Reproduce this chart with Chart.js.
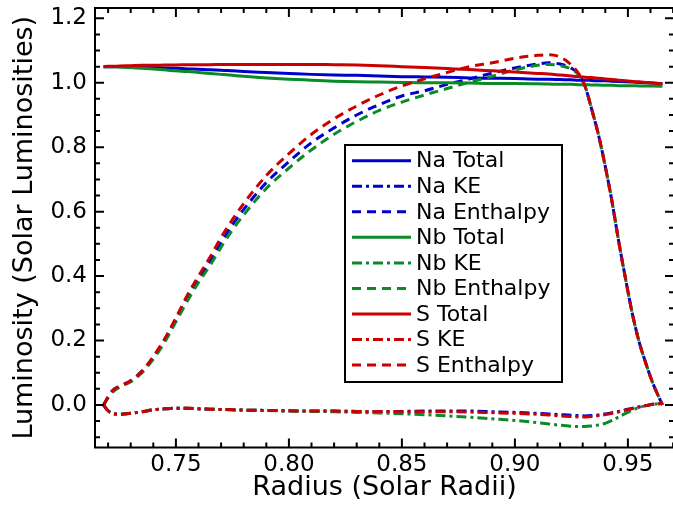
<!DOCTYPE html>
<html>
<head>
<meta charset="utf-8">
<title>Luminosity profiles</title>
<script src="https://cdn.jsdelivr.net/npm/chart.js@4.4.0/dist/chart.umd.min.js"></script>
<style>
  html, body { margin: 0; padding: 0; background: #fff; overflow: hidden; }
  canvas { display: block; }
</style>
</head>
<body>
<canvas id="lumChart" width="676" height="505"></canvas>
<script>
// Radii (solar radii) where each profile is sampled
const radius = [
  0.718, 0.720, 0.722, 0.725, 0.730, 0.735, 0.740, 0.745, 0.750, 0.755,
  0.760, 0.765, 0.770, 0.775, 0.780, 0.790, 0.800, 0.810, 0.820, 0.830,
  0.840, 0.850, 0.860, 0.870, 0.880, 0.890, 0.900, 0.910, 0.915, 0.920,
  0.925, 0.928, 0.931, 0.934, 0.937, 0.940, 0.943, 0.946, 0.949, 0.952,
  0.955, 0.958, 0.961, 0.9653
];

// Model Na
const naTotal = [
  1.050, 1.050, 1.050, 1.050, 1.049, 1.048, 1.047, 1.046, 1.045, 1.043,
  1.042, 1.040, 1.039, 1.037, 1.035, 1.032, 1.029, 1.026, 1.024, 1.023,
  1.021, 1.019, 1.018, 1.017, 1.015, 1.014, 1.013, 1.011, 1.011, 1.010,
  1.009, 1.008, 1.008, 1.007, 1.006, 1.006, 1.005, 1.004, 1.003, 1.002,
  1.001, 1.000, 0.999, 0.997
];
const naKE = [
  0.000, -0.018, -0.026, -0.029, -0.026, -0.021, -0.015, -0.012, -0.010, -0.010,
  -0.012, -0.013, -0.014, -0.015, -0.016, -0.017, -0.018, -0.019, -0.019, -0.020,
  -0.020, -0.020, -0.019, -0.019, -0.019, -0.021, -0.023, -0.026, -0.028, -0.030,
  -0.032, -0.033, -0.034, -0.033, -0.031, -0.028, -0.024, -0.020, -0.015, -0.010,
  -0.006, -0.002, 0.002, 0.005
];
const naEnthalpy = [
  0.000, 0.025, 0.045, 0.058, 0.075, 0.105, 0.148, 0.202, 0.265, 0.333,
  0.390, 0.446, 0.505, 0.559, 0.607, 0.690, 0.755, 0.814, 0.860, 0.900,
  0.932, 0.959, 0.975, 0.995, 1.012, 1.030, 1.046, 1.058, 1.062, 1.058,
  1.045, 1.028, 0.990, 0.917, 0.838, 0.740, 0.630, 0.505, 0.390, 0.282,
  0.195, 0.128, 0.068, 0.000
];

// Model Nb
const nbTotal = [
  1.050, 1.050, 1.050, 1.049, 1.047, 1.045, 1.043, 1.040, 1.037, 1.035,
  1.032, 1.029, 1.026, 1.023, 1.020, 1.015, 1.011, 1.008, 1.005, 1.003,
  1.002, 1.001, 1.000, 1.000, 0.999, 0.998, 0.998, 0.997, 0.996, 0.995,
  0.995, 0.994, 0.994, 0.993, 0.993, 0.992, 0.992, 0.991, 0.991, 0.991,
  0.990, 0.990, 0.990, 0.989
];
const nbKE = [
  0.000, -0.018, -0.026, -0.029, -0.026, -0.021, -0.015, -0.012, -0.010, -0.010,
  -0.012, -0.013, -0.014, -0.015, -0.016, -0.017, -0.019, -0.020, -0.021, -0.023,
  -0.025, -0.027, -0.030, -0.034, -0.038, -0.043, -0.048, -0.055, -0.059, -0.063,
  -0.066, -0.067, -0.067, -0.065, -0.062, -0.057, -0.048, -0.037, -0.026, -0.016,
  -0.008, -0.002, 0.002, 0.005
];
const nbEnthalpy = [
  0.000, 0.022, 0.040, 0.055, 0.072, 0.100, 0.142, 0.195, 0.258, 0.322,
  0.380, 0.432, 0.490, 0.543, 0.590, 0.672, 0.735, 0.792, 0.840, 0.880,
  0.914, 0.940, 0.962, 0.982, 1.002, 1.020, 1.040, 1.054, 1.057, 1.053,
  1.042, 1.026, 0.990, 0.917, 0.838, 0.740, 0.630, 0.505, 0.390, 0.282,
  0.195, 0.128, 0.068, 0.000
];

// Model S
const sTotal = [
  1.050, 1.051, 1.051, 1.052, 1.053, 1.054, 1.054, 1.055, 1.055, 1.056,
  1.056, 1.056, 1.057, 1.057, 1.057, 1.057, 1.057, 1.057, 1.056, 1.055,
  1.053, 1.050, 1.047, 1.044, 1.041, 1.037, 1.033, 1.029, 1.027, 1.024,
  1.021, 1.019, 1.017, 1.016, 1.014, 1.012, 1.010, 1.008, 1.006, 1.004,
  1.003, 1.001, 0.999, 0.997
];
const sKE = [
  0.000, -0.018, -0.026, -0.029, -0.026, -0.021, -0.015, -0.012, -0.010, -0.010,
  -0.012, -0.013, -0.014, -0.015, -0.016, -0.017, -0.018, -0.019, -0.019, -0.020,
  -0.020, -0.021, -0.021, -0.021, -0.022, -0.024, -0.026, -0.029, -0.031, -0.034,
  -0.036, -0.037, -0.037, -0.036, -0.033, -0.030, -0.026, -0.021, -0.016, -0.011,
  -0.006, -0.002, 0.002, 0.005
];
const sEnthalpy = [
  0.000, 0.025, 0.045, 0.058, 0.075, 0.105, 0.150, 0.205, 0.270, 0.340,
  0.400, 0.458, 0.520, 0.575, 0.625, 0.712, 0.780, 0.840, 0.888, 0.928,
  0.962, 0.990, 1.012, 1.032, 1.050, 1.062, 1.076, 1.085, 1.087, 1.080,
  1.055, 1.030, 0.990, 0.917, 0.838, 0.740, 0.630, 0.505, 0.390, 0.282,
  0.195, 0.128, 0.068, 0.000
];

// Axis ticks
const xTicks = [0.75, 0.80, 0.85, 0.90, 0.95];
const yTicks = [0.0, 0.2, 0.4, 0.6, 0.8, 1.0, 1.2];
const xMinorTicks = [
  0.72, 0.73, 0.74, 0.76, 0.77, 0.78, 0.79, 0.81, 0.82, 0.83, 0.84,
  0.86, 0.87, 0.88, 0.89, 0.91, 0.92, 0.93, 0.94, 0.96, 0.97
];
const yMinorTicks = [-0.10, -0.05, 0.05, 0.10, 0.15, 0.25, 0.30, 0.35, 0.45, 0.50, 0.55,
  0.65, 0.70, 0.75, 0.85, 0.90, 0.95, 1.05, 1.10, 1.15];

const BLUE = '#0000cc';
const GREEN = '#0a8a28';
const RED = '#cc0000';
const SOLID = [];
const DASH_DOT = [10, 4, 3, 4];
const DASHED = [9, 6];
const FONT = 'DejaVu Sans';

function makeLine(label, values, color, dash, order) {
  return {
    label: label,
    data: radius.map((r, i) => ({ x: r, y: values[i] })),
    borderColor: color,
    backgroundColor: color,
    borderDash: dash,
    borderWidth: 3,
    pointRadius: 0,
    fill: false,
    cubicInterpolationMode: 'monotone',
    order: order
  };
}

// red drawn on top, then green, then blue
const datasets = [
  makeLine('Na Total', naTotal, BLUE, SOLID, 2),
  makeLine('Na KE', naKE, BLUE, DASH_DOT, 2),
  makeLine('Na Enthalpy', naEnthalpy, BLUE, DASHED, 2),
  makeLine('Nb Total', nbTotal, GREEN, SOLID, 1),
  makeLine('Nb KE', nbKE, GREEN, DASH_DOT, 1),
  makeLine('Nb Enthalpy', nbEnthalpy, GREEN, DASHED, 1),
  makeLine('S Total', sTotal, RED, SOLID, 0),
  makeLine('S KE', sKE, RED, DASH_DOT, 0),
  makeLine('S Enthalpy', sEnthalpy, RED, DASHED, 0)
];

// Box around the plot with inward ticks on all four sides
const frameTicks = {
  id: 'frameTicks',
  afterDatasetsDraw(chart) {
    const { ctx, chartArea: a, scales: { x, y } } = chart;
    ctx.save();
    ctx.strokeStyle = '#000';
    ctx.lineWidth = 2;
    ctx.beginPath();
    const xMarks = (vals, len) => vals.forEach(v => {
      const px = x.getPixelForValue(v);
      ctx.moveTo(px, a.bottom); ctx.lineTo(px, a.bottom - len);
      ctx.moveTo(px, a.top); ctx.lineTo(px, a.top + len);
    });
    const yMarks = (vals, len) => vals.forEach(v => {
      const py = y.getPixelForValue(v);
      ctx.moveTo(a.left, py); ctx.lineTo(a.left + len, py);
      ctx.moveTo(a.right, py); ctx.lineTo(a.right - len, py);
    });
    xMarks(xTicks, 9);
    xMarks(xMinorTicks, 5);
    yMarks(yTicks, 9);
    yMarks(yMinorTicks, 5);
    ctx.stroke();
    ctx.strokeRect(a.left, a.top, a.right - a.left, a.bottom - a.top);
    ctx.restore();
  }
};

// Boxed legend inside the plot
const boxLegend = {
  id: 'boxLegend',
  afterDraw(chart) {
    const ctx = chart.ctx;
    const box = { left: 345, top: 145, width: 217, height: 237 };
    const rowStart = 160.7, rowStep = 25.55;
    ctx.save();
    ctx.fillStyle = '#fff';
    ctx.fillRect(box.left, box.top, box.width, box.height);
    ctx.strokeStyle = '#000';
    ctx.lineWidth = 2;
    ctx.strokeRect(box.left, box.top, box.width, box.height);
    ctx.font = '22px "' + FONT + '"';
    ctx.textBaseline = 'middle';
    ctx.textAlign = 'left';
    chart.data.datasets.forEach((ds, i) => {
      const yRow = rowStart + i * rowStep;
      ctx.strokeStyle = ds.borderColor;
      ctx.lineWidth = ds.borderWidth;
      ctx.setLineDash(ds.borderDash);
      ctx.beginPath();
      ctx.moveTo(352, yRow);
      ctx.lineTo(411, yRow);
      ctx.stroke();
      ctx.setLineDash([]);
      ctx.fillStyle = '#000';
      ctx.fillText(ds.label, 416, yRow + 1);
    });
    ctx.restore();
  }
};

const chart = new Chart(document.getElementById('lumChart'), {
  type: 'line',
  data: { datasets: datasets },
  options: {
    responsive: false,
    animation: false,
    devicePixelRatio: 1,
    layout: { padding: { top: 8, right: 2, left: 0, bottom: 0 } },
    plugins: {
      legend: { display: false },
      tooltip: { enabled: false }
    },
    scales: {
      x: {
        type: 'linear',
        min: 0.7142,
        max: 0.9704,
        border: { display: false },
        grid: { display: false, drawTicks: false },
        afterBuildTicks: scale => { scale.ticks = xTicks.map(v => ({ value: v })); },
        afterFit: scale => {
          scale.height = 57.5;
          scale.paddingLeft = 0;
          scale.paddingRight = 0;
        },
        ticks: {
          autoSkip: false,
          maxRotation: 0,
          padding: 4,
          color: '#000',
          font: { family: FONT, size: 23 },
          callback: v => v.toFixed(2)
        },
        title: {
          display: true,
          text: 'Radius (Solar Radii)',
          color: '#000',
          font: { family: FONT, size: 27 },
          padding: { top: 0, bottom: 1 }
        }
      },
      y: {
        type: 'linear',
        min: -0.132,
        max: 1.232,
        border: { display: false },
        grid: { display: false, drawTicks: false },
        afterBuildTicks: scale => { scale.ticks = yTicks.map(v => ({ value: v })); },
        afterFit: scale => {
          scale.width = 95;
          scale.paddingTop = 0;
          scale.paddingBottom = 0;
        },
        ticks: {
          autoSkip: false,
          padding: 8,
          color: '#000',
          font: { family: FONT, size: 23 },
          callback: v => v.toFixed(1)
        },
        title: {
          display: true,
          text: 'Luminosity (Solar Luminosities)',
          color: '#000',
          font: { family: FONT, size: 27 },
          padding: { top: 9, bottom: 0 }
        }
      }
    }
  },
  plugins: [frameTicks, boxLegend]
});
</script>
</body>
</html>
